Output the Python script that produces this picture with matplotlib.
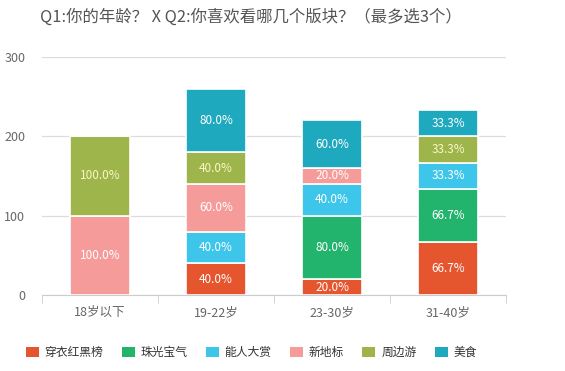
import numpy as np
import matplotlib.pyplot as plt
from matplotlib.patches import Patch

plt.rcParams['font.family'] = ['Noto Sans CJK SC', 'DejaVu Sans']

ages = ['18岁以下', '19-22岁', '23-30岁', '31-40岁']
series = ['穿衣红黑榜', '珠光宝气', '能人大赏', '新地标', '周边游', '美食']
colors = ['#E5562F', '#22B46C', '#3EC6EA', '#F59C9A', '#9DB54B', '#1FA9BE']

# percentages per series, one value per age group
chuanyi = [0, 40.0, 20.0, 66.7]
zhuguang = [0, 0, 80.0, 66.7]
nengren = [0, 40.0, 40.0, 33.3]
xindibiao = [100.0, 60.0, 20.0, 0]
zhoubian = [100.0, 40.0, 0, 33.3]
meishi = [0, 80.0, 60.0, 33.3]
values = [chuanyi, zhuguang, nengren, xindibiao, zhoubian, meishi]

fig = plt.figure(figsize=(5.65, 3.71), dpi=100)
ax = fig.add_axes([0.0743, 0.2049, 0.8213, 0.6415])

x = np.arange(len(ages))
bottom = np.zeros(len(ages))
for name, vals, c in zip(series, values, colors):
    vals = np.array(vals)
    ax.bar(x, vals, 0.51, bottom=bottom, color=c, edgecolor='white',
           linewidth=1.2, zorder=3)
    for xi, v, b in zip(x, vals, bottom):
        if v > 0:
            tc = '#fbf6c8' if name == '周边游' else 'white'
            ax.text(xi, b + v / 2, f'{v:.1f}%', ha='center', va='center',
                    color=tc, fontsize=8.5, zorder=4)
    bottom += vals

ax.set_xlim(-0.5, 3.5)
ax.set_ylim(0, 300)
ax.set_yticks([0, 100, 200, 300])
ax.yaxis.grid(True, color='#dcdcdc', linewidth=0.9, zorder=0)
ax.set_xticks(x)
ax.set_xticklabels(ages)
ax.set_xticks(np.arange(-0.5, 4, 1), minor=True)
ax.tick_params(axis='x', which='major', length=0, pad=8, colors='#666666', labelsize=9)
ax.tick_params(axis='x', which='minor', length=6, color='#cccccc')
ax.tick_params(axis='y', length=0, pad=12, colors='#666666', labelsize=9)
for s in ['top', 'right', 'left']:
    ax.spines[s].set_visible(False)
ax.spines['bottom'].set_color('#cccccc')

fig.text(0.071, 0.955, 'Q1:你的年龄？ X Q2:你喜欢看哪几个版块？（最多选3个）',
         fontsize=11.8, color='#555555', va='center')

handles = [Patch(facecolor=c, label=n) for n, c in zip(series, colors)]
fig.legend(handles=handles, loc='center', bbox_to_anchor=(0.445, 0.05), ncol=6,
           frameon=False, fontsize=8.5, handlelength=1.1, handleheight=1.0,
           columnspacing=1.55, handletextpad=0.5, labelcolor='#333333')

fig.savefig('out.png', dpi=100)
